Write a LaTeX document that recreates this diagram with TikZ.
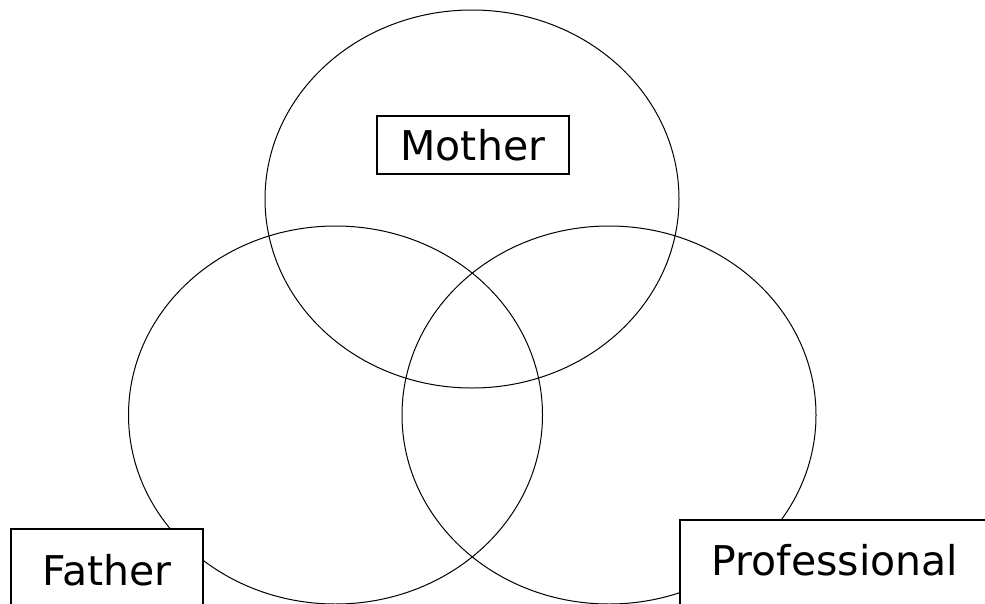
\documentclass[tikz,border=0pt]{standalone}
\usepackage{fontspec}
\setmainfont{DejaVu Sans}
\usepackage{xcolor}
\definecolor{cLine}{HTML}{000000}
\usetikzlibrary{shapes.geometric}
\tikzset{
  set-ring/.style={draw=cLine,line width=1pt,ellipse,
    minimum width=414pt,minimum height=378pt,inner sep=0pt},
  set-label/.style={draw=cLine,line width=1.6pt,fill=white,anchor=north west,
    inner xsep=0pt,inner ysep=0pt,font=\fontsize{41}{45}\selectfont},
}

\begin{document}
\begin{tikzpicture}[x=1pt,y=-1pt]
  \useasboundingbox (0,0) rectangle (985,603);
  \clip (0,0) rectangle (985,603);
  % three overlapping sets
  \node[set-ring] (mother) at (472,199) {};
  \node[set-ring] (father) at (335.5,415) {};
  \node[set-ring] (prof) at (609,415) {};
  % labels; the lower two run past the bottom edge
  \node[set-label,minimum width=192pt,text height=45pt,text depth=13pt] (mother-lbl) at (376,115) {Mother};
  \node[set-label,minimum width=192pt,text height=57pt,text depth=40pt] (father-lbl) at (10,528) {Father};
  \node[set-label,minimum width=310pt,text height=56pt,text depth=40pt] (prof-lbl) at (679,519) {Professional};
\end{tikzpicture}
\end{document}
